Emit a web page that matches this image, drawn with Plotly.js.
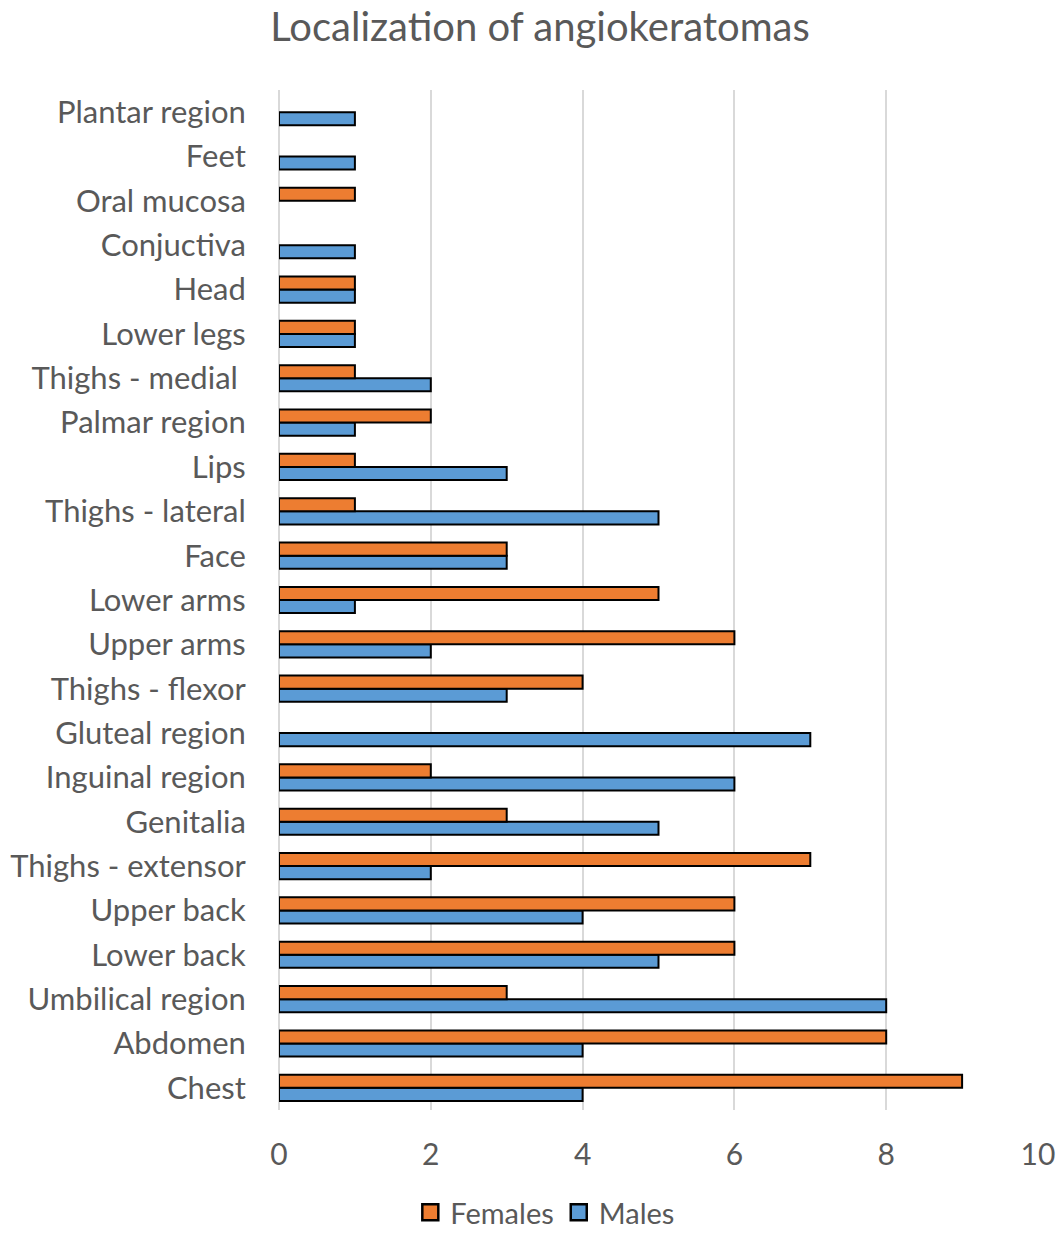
<!DOCTYPE html>
<html>
<head>
<meta charset="utf-8">
<script src="https://cdn.plot.ly/plotly-3.0.1.min.js"></script>
<style>html,body{margin:0;padding:0;background:#fff;}#chart{width:1063px;height:1238px;}</style>
</head>
<body>
<div id="chart"></div>
<script>
// Categories listed bottom to top
const categories = ["Chest", "Abdomen", "Umbilical region", "Lower back", "Upper back", "Thighs - extensor", "Genitalia", "Inguinal region", "Gluteal region", "Thighs - flexor", "Upper arms", "Lower arms", "Face", "Thighs - lateral", "Lips", "Palmar region", "Thighs - medial ", "Lower legs", "Head", "Conjuctiva", "Oral mucosa", "Feet", "Plantar region"];
const females = [9, 8, 3, 6, 6, 7, 3, 2, 0, 4, 6, 5, 3, 1, 1, 2, 1, 1, 1, 0, 1, 0, 0];
const males   = [4, 4, 8, 5, 4, 2, 5, 6, 7, 3, 2, 1, 3, 5, 3, 1, 2, 1, 1, 1, 0, 1, 1];
const xTicks = [0, 2, 4, 6, 8, 10];

const fontFam = "Lato, 'Open Sans', sans-serif";
const txtColor = "#595959";
const lw = v => v.map(d => d === 0 ? 0 : 2);

const traces = [
  {type: "bar", orientation: "h", name: "Males", y: categories, x: males, showlegend: false,
   marker: {color: "#5B9BD5", line: {color: "#000", width: lw(males)}}},
  {type: "bar", orientation: "h", name: "Females", y: categories, x: females, showlegend: false,
   marker: {color: "#ED7D31", line: {color: "#000", width: lw(females)}}},
  // legend-only entries with larger square symbols
  {type: "scatter", mode: "markers", name: "Males", x: [null], y: [null],
   marker: {symbol: "square", size: 16, color: "#5B9BD5", line: {color: "#000", width: 2.5}}},
  {type: "scatter", mode: "markers", name: "Females", x: [null], y: [null],
   marker: {symbol: "square", size: 16, color: "#ED7D31", line: {color: "#000", width: 2.5}}}
];

const layout = {
  width: 1063, height: 1238,
  paper_bgcolor: "#fff", plot_bgcolor: "#fff",
  margin: {l: 279, r: 25, t: 90, b: 128},
  barmode: "group", bargap: 0.41, bargroupgap: 0,
  title: {text: "Localization of angiokeratomas", x: 0.508, xref: "container", xanchor: "center", y: 0.978, yref: "container", yanchor: "middle",
          font: {family: fontFam, size: 40, color: txtColor}},
  font: {family: fontFam, color: txtColor},
  xaxis: {range: [0, 10], tickvals: xTicks, ticktext: xTicks.map(String), showgrid: true, gridcolor: "#d9d9d9", gridwidth: 2,
          zeroline: true, zerolinecolor: "#d9d9d9", zerolinewidth: 2, showline: false,
          ticks: "outside", ticklen: 18, tickcolor: "rgba(0,0,0,0)", tickfont: {family: fontFam, size: 30, color: txtColor}, fixedrange: true},
  yaxis: {type: "category", categoryorder: "array", categoryarray: categories, showgrid: false, zeroline: false, showline: false,
          ticks: "outside", ticklen: 26, tickcolor: "rgba(0,0,0,0)", tickfont: {family: fontFam, size: 31, color: txtColor}},
  legend: {orientation: "h", traceorder: "reversed", xref: "container", yref: "container", x: 0.513, xanchor: "center", y: -0.005, yanchor: "bottom",
           font: {family: fontFam, size: 29, color: txtColor}, itemwidth: 30},
  showlegend: true
};

Plotly.newPlot("chart", traces, layout, {displayModeBar: false, staticPlot: true});
</script>
</body>
</html>
